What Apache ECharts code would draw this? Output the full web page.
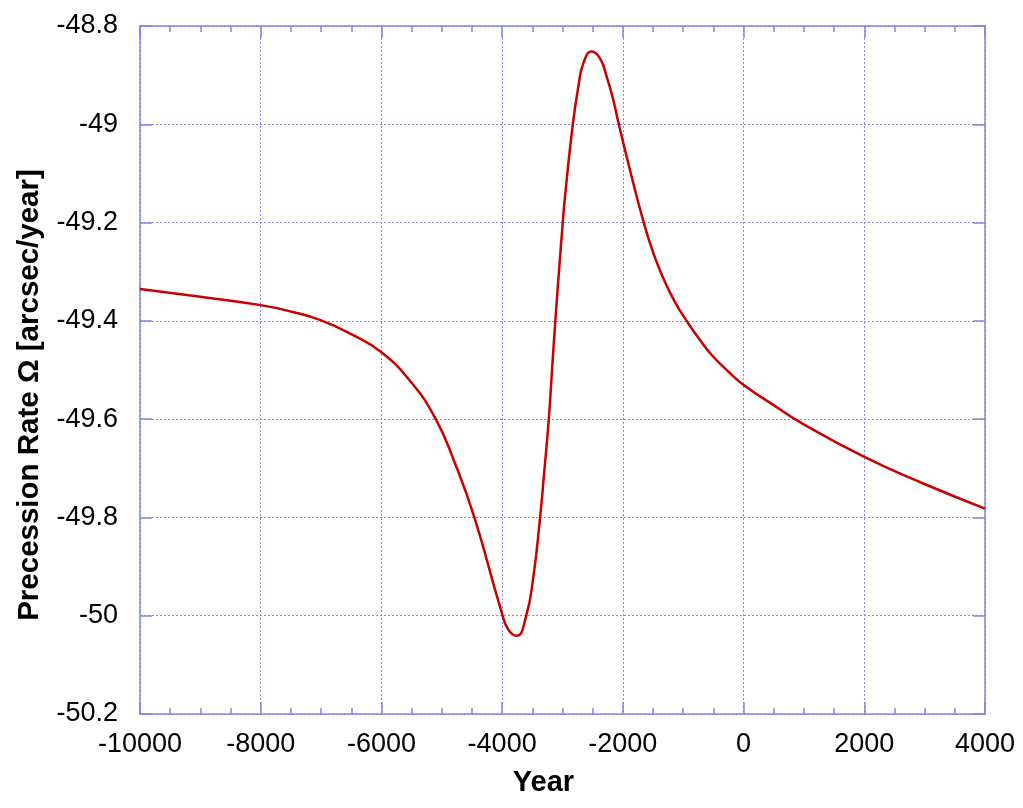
<!DOCTYPE html>
<html>
<head>
<meta charset="utf-8">
<script src="https://cdn.jsdelivr.net/npm/echarts@6/dist/echarts.min.js"></script>
<style>
html,body{margin:0;padding:0;background:#fff;}
#chart{width:1023px;height:808px;}
</style>
</head>
<body>
<div id="chart"></div>
<script>
const years = [-10000,-9000,-8000,-7500,-7000,-6500,-6000,-5500,-5100,-4800,-4460,-4020,-3900,-3760,-3605,-3483,-3373,-3306,-3229,-3174,-3119,-3053,-2997,-2964,-2831,-2738,-2655,-2516,-2379,-2268,-2158,-2065,-1882,-1661,-1495,-1330,-1136,-932,-722,-501,-253,-4,493,935,1984,2978,4000];
const rates = [-49.335,-49.351,-49.368,-49.381,-49.399,-49.427,-49.464,-49.526,-49.600,-49.684,-49.800,-49.988,-50.028,-50.041,-50.002,-49.921,-49.802,-49.712,-49.603,-49.501,-49.401,-49.290,-49.202,-49.154,-49.002,-48.924,-48.876,-48.852,-48.866,-48.903,-48.951,-49.001,-49.093,-49.197,-49.262,-49.313,-49.362,-49.402,-49.439,-49.473,-49.503,-49.530,-49.571,-49.606,-49.676,-49.731,-49.782];
const xTicks = [-10000,-8000,-6000,-4000,-2000,0,2000,4000];
const yTicks = [-50.2,-50,-49.8,-49.6,-49.4,-49.2,-49,-48.8];
const xName = 'Year';
const yName = 'Precession Rate \u03A9 [arcsec/year]';

const axisColor = '#8484e4';
const gridColor = '#8a8aee';
const font = 'Liberation Sans, Arial, sans-serif';

const chart = echarts.init(document.getElementById('chart'));
const data = years.map((y, i) => [y, rates[i]]);

const xBase = {
  type: 'value', min: xTicks[0], max: xTicks[xTicks.length - 1], interval: xTicks[1] - xTicks[0],
  axisLine: {show: true, onZero: false, lineStyle: {color: axisColor, width: 1.5}},
  axisTick: {show: true, inside: true, length: 12, lineStyle: {color: axisColor, width: 1.5}},
  minorTick: {show: true, splitNumber: 4, length: 6, lineStyle: {color: axisColor, width: 1.5}}
};
const yBase = {
  type: 'value', min: yTicks[0], max: yTicks[yTicks.length - 1], interval: 0.2,
  axisLine: {show: true, onZero: false, lineStyle: {color: axisColor, width: 1.5}},
  axisTick: {show: true, inside: true, length: 12, lineStyle: {color: axisColor, width: 1.5}}
};

chart.setOption({
  backgroundColor: '#fff',
  animation: false,
  grid: {left: 140, right: 38, top: 26, bottom: 94, containLabel: false},
  xAxis: [
    Object.assign({}, xBase, {
      position: 'bottom',
      name: xName, nameLocation: 'middle', nameGap: 54,
      nameTextStyle: {fontFamily: font, fontSize: 29, fontWeight: 'bold', color: '#000', padding: [0, 38, 0, 0]},
      axisLabel: {fontFamily: font, fontSize: 27, color: '#000', margin: 17, formatter: v => String(v)},
      splitLine: {show: true, lineStyle: {color: gridColor, type: [2, 2], width: 1}}
    }),
    Object.assign({}, xBase, {
      position: 'top',
      axisLabel: {show: false},
      splitLine: {show: false}
    })
  ],
  yAxis: [
    Object.assign({}, yBase, {
      position: 'left',
      name: yName, nameLocation: 'middle', nameGap: 95,
      nameTextStyle: {fontFamily: font, fontSize: 29.5, fontWeight: 'bold', color: '#000', padding: [0, 50, 0, 0]},
      axisLabel: {fontFamily: font, fontSize: 27, color: '#000', margin: 22,
        formatter: v => String(Math.round(v * 10) / 10)},
      splitLine: {show: true, lineStyle: {color: gridColor, type: [2, 2], width: 1}}
    }),
    Object.assign({}, yBase, {
      position: 'right',
      axisLabel: {show: false},
      splitLine: {show: false}
    })
  ],
  series: [{
    type: 'line',
    data: data,
    xAxisIndex: 0, yAxisIndex: 0,
    smooth: 0.5,
    showSymbol: false,
    lineStyle: {color: '#c80000', width: 2.5},
    z: 5
  }]
});
</script>
</body>
</html>
